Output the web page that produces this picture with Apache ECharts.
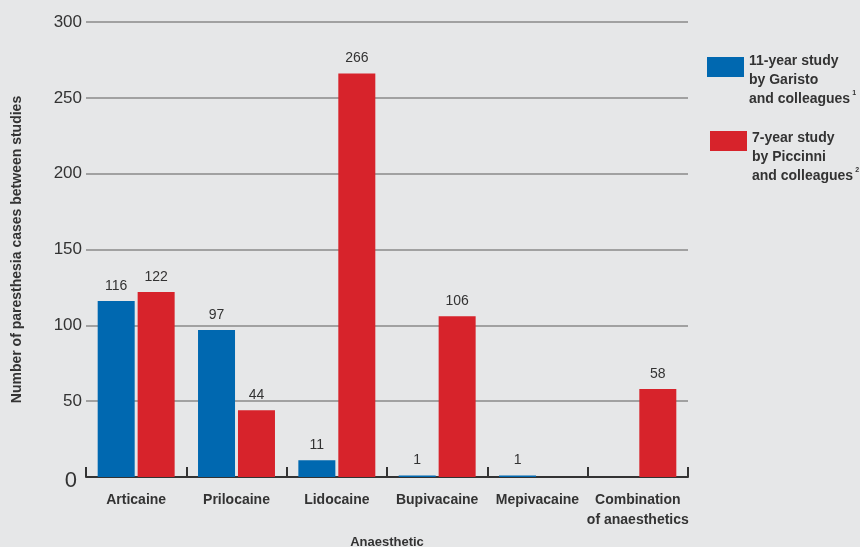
<!DOCTYPE html>
<html>
<head>
<meta charset="utf-8">
<script src="https://cdn.jsdelivr.net/npm/echarts@6/dist/echarts.min.js"></script>
<style>
  html, body { margin: 0; padding: 0; background: #e6e7e8; }
  #chart { width: 860px; height: 547px; }
</style>
</head>
<body>
<div id="chart"></div>
<script>
const categories = ['Articaine', 'Prilocaine', 'Lidocaine', 'Bupivacaine', 'Mepivacaine', 'Combination\nof anaesthetics']
const garisto = [116, 97, 11, 1, 1, null]
const piccinni = [122, 44, 266, 106, null, 58]
const yTicks = [0, 50, 100, 150, 200, 250, 300]

const font = "'Liberation Sans', Arial, sans-serif"
const blue = '#0068b0'
const red = '#d7232b'

// rect set a little below the top of a taller box so it lines up with the first text line
function legendIcon (offset) {
  return 'path://M0,0h0.01v0.01h-0.01z M0,' + offset + 'h37v20h-37z M0,57h0.01v0.01h-0.01z'
}

const legendText = {
  fontFamily: font, fontSize: 14, fontWeight: 'bold', color: '#333', lineHeight: 19,
  rich: { sup: { fontSize: 7, verticalAlign: 'top', color: '#333', padding: [0, 0, 6, 2] } }
}

const chart = echarts.init(document.getElementById('chart'))
chart.setOption({
  backgroundColor: '#e6e7e8',
  textStyle: { fontFamily: font },
  animation: false,
  grid: { left: 86, right: 172, top: 22, bottom: 70, containLabel: false, outerBoundsMode: 'none' },
  legend: [
    {
      data: ['11-year study\nby Garisto\nand colleagues'],
      orient: 'vertical',
      left: 707,
      top: 52,
      padding: 0,
      itemWidth: 37,
      itemHeight: 57,
      icon: legendIcon(5),
      selectedMode: false,
      formatter: n => n + '{sup|1}',
      textStyle: legendText
    },
    {
      data: ['7-year study\nby Piccinni\nand colleagues'],
      orient: 'vertical',
      left: 710,
      top: 129,
      padding: 0,
      itemWidth: 37,
      itemHeight: 57,
      icon: legendIcon(2),
      selectedMode: false,
      formatter: n => n + '{sup|2}',
      textStyle: legendText
    }
  ],
  xAxis: {
    type: 'category',
    data: categories,
    name: 'Anaesthetic',
    nameLocation: 'middle',
    nameGap: 59,
    nameTextStyle: { fontFamily: font, fontSize: 13, fontWeight: 'bold', color: '#333' },
    axisLine: { lineStyle: { color: '#333', width: 2 } },
    axisTick: { show: true, inside: true, length: 10, lineStyle: { color: '#333', width: 2 } },
    axisLabel: {
      interval: 0, margin: 13, fontFamily: font, fontSize: 14, fontWeight: 'bold', color: '#333', lineHeight: 20
    }
  },
  yAxis: {
    type: 'value',
    min: 0,
    max: 300,
    interval: 50,
    name: 'Number of paresthesia cases between studies',
    nameLocation: 'middle',
    nameGap: 62,
    nameTextStyle: { fontFamily: font, fontSize: 14, fontWeight: 'bold', color: '#333' },
    axisLine: { show: false },
    axisTick: { show: false },
    splitLine: { lineStyle: { color: '#8a8a8a', width: 1.5 } },
    axisLabel: {
      margin: 4,
      fontFamily: font,
      fontSize: 17,
      color: '#333',
      formatter: v => (v === yTicks[0] ? '{zero|' + v + '}' : String(v)),
      rich: { zero: { fontSize: 22, color: '#333', padding: [8, 5, 0, 0] } }
    }
  },
  series: [
    {
      name: '11-year study\nby Garisto\nand colleagues',
      type: 'bar',
      data: garisto,
      barWidth: 37,
      barGap: '8%',
      itemStyle: { color: blue },
      label: { show: true, position: 'top', distance: 8, fontFamily: font, fontSize: 14, color: '#333' }
    },
    {
      name: '7-year study\nby Piccinni\nand colleagues',
      type: 'bar',
      data: piccinni,
      barWidth: 37,
      itemStyle: { color: red },
      label: { show: true, position: 'top', distance: 8, fontFamily: font, fontSize: 14, color: '#333' }
    }
  ]
})
</script>
</body>
</html>
